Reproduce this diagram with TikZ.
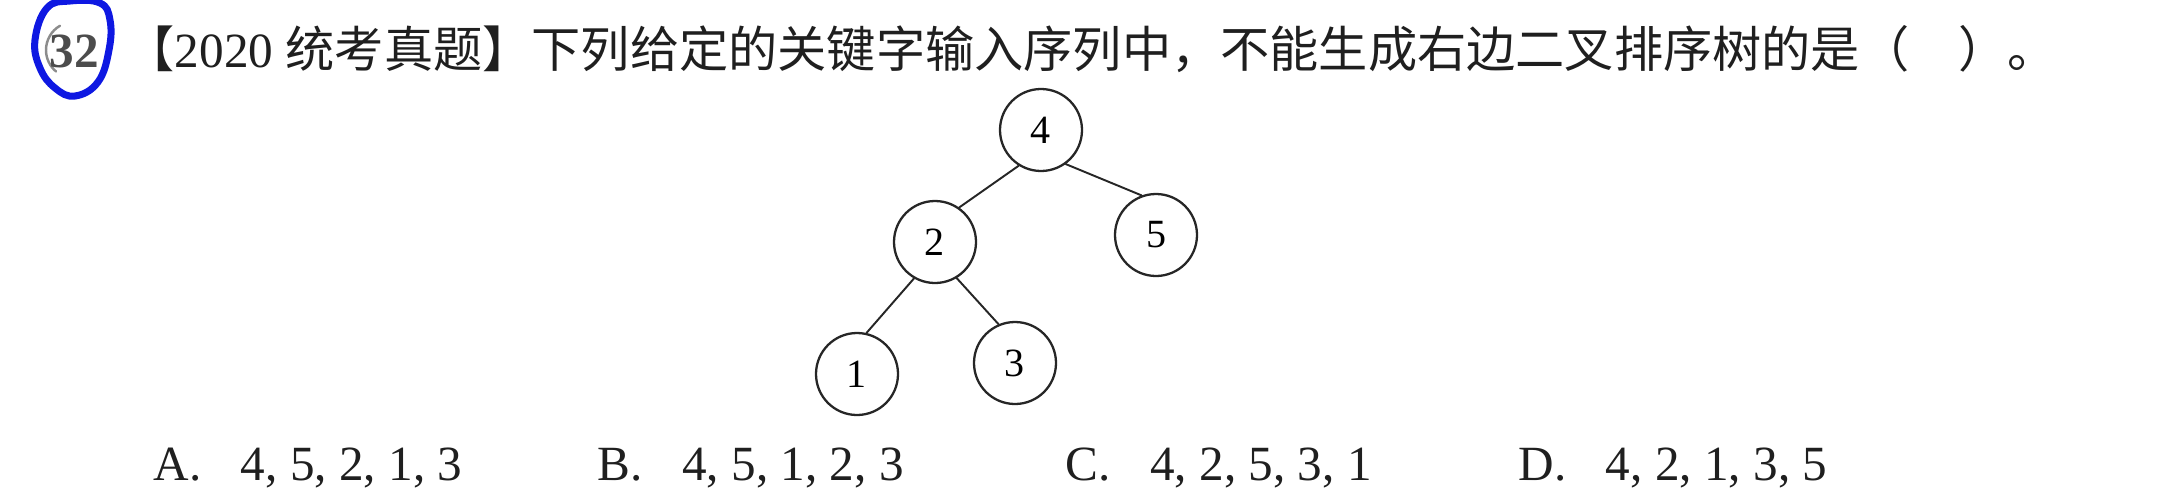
\documentclass[tikz,border=0pt]{standalone}
\usepackage{fontspec}
\setmainfont{Liberation Serif}
\newfontfamily\cjk{Noto Sans CJK SC}
\usepackage{xcolor}
\definecolor{penblue}{RGB}{14,24,226}

\begin{document}
\begin{tikzpicture}[line cap=round,
  txt/.style={anchor=base west,inner sep=0pt,text=black!88,font=\fontsize{14pt}{16pt}\selectfont},
  key/.style={circle,draw=black!85,line width=0.65pt,minimum size=0.82cm,inner sep=0pt,font=\fontsize{11.4pt}{12pt}\selectfont}]
\useasboundingbox (0,0) rectangle (21.68,4.87);
% question number, circled by hand
\draw[black!45,line width=0.7pt] (0.74,4.37) ++(120:0.28) arc (120:230:0.28);
\node[anchor=base,inner sep=0pt,text=black!70,font=\fontsize{14pt}{16pt}\selectfont\bfseries] (num) at (0.74,4.20) {32};
\draw[penblue,line width=2pt] plot[smooth cycle,tension=0.7] coordinates
  {(0.70,4.86) (0.47,4.79) (0.35,4.47) (0.40,4.19) (0.55,3.99) (0.75,3.91) (0.98,4.05) (1.09,4.37) (1.10,4.67) (1.00,4.84)};
\node[txt] (title) at (1.25,4.20) {{\cjk 【}2020 {\cjk 统考真题】下列给定的关键字输入序列中，不能生成右边二叉排序树的是（\quad ）。}};
% the tree
\node[key] (n4) at (10.41,3.57) {4};
\node[key] (n2) at (9.35,2.45) {2};
\node[key] (n5) at (11.56,2.52) {5};
\node[key] (n1) at (8.57,1.13) {1};
\node[key] (n3) at (10.15,1.24) {3};
\draw[black!85,line width=0.55pt] (n4.238) -- (n2.55);
\draw[black!85,line width=0.55pt] (n4.306) -- (n5.110);
\draw[black!85,line width=0.55pt] (n2.240) -- (n1.77);
\draw[black!85,line width=0.55pt] (n2.301) -- (n3.113);
% choices
\node[txt] (optA) at (1.53,0.07) {A.\hspace{0.8em}4, 5, 2, 1, 3};
\node[txt] (optB) at (5.97,0.07) {B.\hspace{0.8em}4, 5, 1, 2, 3};
\node[txt] (optC) at (10.65,0.07) {C.\hspace{0.8em}4, 2, 5, 3, 1};
\node[txt] (optD) at (15.18,0.07) {D.\hspace{0.8em}4, 2, 1, 3, 5};
\end{tikzpicture}
\end{document}
